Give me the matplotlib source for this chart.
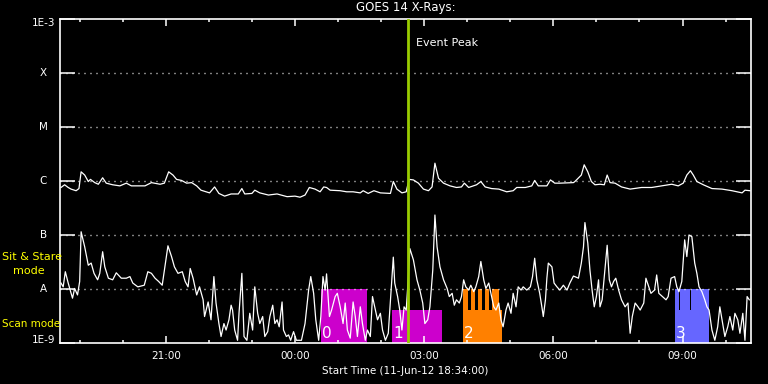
import matplotlib
matplotlib.use("Agg")
import matplotlib.pyplot as plt
from matplotlib.ticker import FixedLocator, FuncFormatter, NullLocator
import numpy as np

# times are minutes after the start, 11-Jun-12 18:34:00
START_MIN = 18 * 60 + 34

# GOES 14 long channel (1-8 A), log10 flux
long_min = [0, 5, 10, 14, 21, 25, 28, 33, 38, 41, 47, 52, 58, 63, 72, 82, 91, 98,
            117, 126, 138, 144, 150, 156, 161, 168, 175, 182, 189, 195, 207, 214,
            220, 228, 237, 247, 252, 256, 266, 270, 277, 289, 301, 315, 326, 333,
            340, 346, 354, 361, 366, 370, 375, 389, 398, 407, 417, 421, 428, 436,
            445, 459, 463, 468, 475, 481, 485, 491, 498, 505, 512, 517, 521, 526,
            533, 542, 551, 558, 562, 568, 579, 585, 591, 600, 610, 621, 630, 635,
            647, 656, 660, 665, 677, 682, 688, 695, 714, 716, 725, 729, 734, 739,
            744, 751, 757, 761, 765, 772, 781, 793, 809, 823, 837, 851, 860, 867,
            872, 877, 881, 886, 895, 907, 921, 935, 949, 953, 960]
long_log = [-6.12, -6.07, -6.12, -6.15, -6.18, -6.14, -5.83, -5.89, -6.01, -5.97,
            -6.03, -6.06, -5.94, -6.04, -6.07, -6.09, -6.04, -6.09, -6.09, -6.03,
            -6.06, -6.04, -5.83, -5.89, -5.97, -5.99, -6.04, -6.03, -6.09, -6.17,
            -6.22, -6.11, -6.23, -6.28, -6.24, -6.24, -6.14, -6.24, -6.23, -6.17,
            -6.22, -6.26, -6.24, -6.29, -6.28, -6.30, -6.26, -6.12, -6.15, -6.20,
            -6.11, -6.12, -6.17, -6.18, -6.20, -6.20, -6.22, -6.18, -6.23, -6.18,
            -6.22, -6.23, -6.01, -6.15, -6.22, -6.20, -5.97, -5.98, -6.04, -6.15,
            -6.18, -6.11, -5.67, -5.95, -6.04, -6.09, -6.12, -6.11, -6.04, -6.12,
            -6.07, -6.01, -6.11, -6.14, -6.15, -6.20, -6.18, -6.12, -6.12, -6.09,
            -5.99, -6.09, -6.09, -5.98, -6.04, -6.04, -6.03, -6.01, -5.89, -5.70,
            -5.83, -6.01, -6.07, -6.06, -6.07, -5.89, -6.03, -6.04, -6.11, -6.15,
            -6.12, -6.12, -6.09, -6.06, -6.09, -6.04, -5.89, -5.81, -5.89, -6.01,
            -6.07, -6.14, -6.15, -6.18, -6.22, -6.17, -6.18]

# GOES 14 short channel (0.5-4 A), log10 flux
short_min = [0, 3, 6, 10, 14, 16, 19, 23, 26, 28, 33, 38, 42, 46, 51, 54, 58, 61,
             66, 72, 77, 84, 91, 96, 100, 107, 116, 121, 126, 131, 136, 141, 145,
             149, 154, 158, 163, 169, 173, 177, 180, 184, 189, 193, 198, 200, 205,
             209, 213, 216, 220, 223, 227, 230, 234, 237, 239, 242, 246, 248, 252,
             255, 259, 263, 267, 270, 274, 277, 281, 284, 288, 291, 295, 298, 301,
             304, 308, 310, 314, 317, 320, 324, 328, 335, 340, 345, 348, 352, 355,
             359, 362, 365, 368, 370, 374, 377, 382, 385, 389, 393, 396, 399, 403,
             407, 410, 413, 417, 420, 424, 427, 431, 434, 438, 441, 445, 448, 452,
             456, 460, 463, 465, 469, 472, 475, 478, 481, 484, 486, 491, 496, 500,
             504, 507, 511, 514, 518, 521, 524, 528, 533, 538, 541, 545, 548, 551,
             555, 558, 561, 564, 568, 571, 575, 578, 582, 585, 589, 592, 596, 599,
             603, 606, 610, 613, 616, 620, 623, 627, 630, 634, 637, 641, 644, 649,
             654, 657, 660, 663, 667, 670, 672, 675, 677, 679, 684, 687, 691, 695,
             700, 705, 709, 714, 721, 725, 728, 730, 734, 737, 740, 743, 746, 749,
             751, 754, 757, 761, 764, 767, 770, 773, 777, 781, 786, 790, 793, 796,
             800, 804, 807, 812, 815, 819, 822, 827, 830, 833, 838, 843, 846, 850,
             855, 858, 861, 865, 869, 872, 875, 879, 883, 886, 889, 893, 897, 900,
             903, 907, 911, 915, 918, 922, 925, 929, 932, 936, 939, 943, 946, 950,
             953, 956, 959]
short_log = [-7.89, -7.96, -7.68, -7.89, -8.08, -8.17, -7.99, -8.11, -7.86, -6.94,
             -7.22, -7.56, -7.52, -7.71, -7.83, -7.71, -7.31, -7.59, -7.80, -7.83,
             -7.70, -7.80, -7.80, -7.77, -7.89, -7.96, -7.93, -7.68, -7.71, -7.80,
             -7.86, -7.93, -7.56, -7.20, -7.40, -7.59, -7.71, -7.68, -7.86, -7.96,
             -7.62, -7.80, -8.11, -7.96, -8.20, -8.51, -8.24, -8.57, -7.77, -8.26,
             -8.64, -8.88, -8.64, -8.76, -8.57, -8.30, -8.39, -8.76, -8.95, -8.45,
             -7.71, -8.88, -8.95, -8.45, -8.76, -7.96, -8.45, -8.64, -8.51, -8.88,
             -8.79, -8.51, -8.30, -8.64, -8.57, -8.70, -8.24, -8.76, -8.88, -8.85,
             -8.95, -8.79, -8.95, -8.95, -8.64, -8.02, -7.77, -8.08, -8.57, -8.95,
             -8.51, -7.77, -8.02, -7.72, -8.51, -8.39, -8.14, -8.08, -8.33, -8.64,
             -8.26, -8.76, -8.91, -8.24, -8.51, -8.88, -8.33, -8.64, -8.95, -8.76,
             -8.88, -8.14, -8.39, -8.57, -8.45, -8.76, -8.95, -8.82, -8.02, -7.41,
             -7.89, -8.14, -8.39, -8.76, -8.33, -8.39, -7.77, -7.25, -7.46, -7.83,
             -8.02, -8.26, -8.64, -8.57, -8.33, -7.65, -6.63, -7.22, -7.59, -7.83,
             -7.99, -8.14, -8.08, -8.30, -8.20, -8.26, -8.14, -7.83, -7.96, -8.02,
             -7.93, -8.05, -7.96, -7.77, -7.49, -7.83, -7.99, -7.89, -8.08, -8.33,
             -8.39, -8.26, -8.57, -8.70, -8.39, -8.26, -8.45, -8.08, -8.33, -7.96,
             -8.02, -7.96, -8.02, -7.96, -7.77, -7.43, -7.83, -8.08, -8.33, -8.51,
             -8.20, -7.80, -7.52, -7.59, -7.89, -7.96, -8.02, -7.93, -8.02, -7.89,
             -7.76, -7.80, -7.52, -7.22, -6.77, -7.15, -7.65, -8.02, -8.33, -8.14,
             -7.83, -8.33, -8.20, -7.77, -7.19, -7.83, -7.96, -7.86, -7.80, -8.02,
             -8.20, -8.33, -8.26, -8.82, -8.51, -8.26, -8.33, -8.39, -8.26, -7.80,
             -7.96, -8.08, -8.02, -7.74, -8.08, -8.14, -8.20, -8.14, -7.80, -7.77,
             -7.96, -8.05, -7.86, -7.09, -7.40, -7.00, -7.03, -7.52, -7.71, -7.96,
             -8.05, -8.20, -8.33, -8.39, -8.76, -8.95, -8.70, -8.33, -8.64, -8.88,
             -8.70, -8.51, -8.76, -8.45, -8.57, -8.82, -8.45, -8.95, -8.14, -8.20]

level_labels = ["1E-3", "X", "M", "C", "B", "A", "1E-9"]
level_values = [1e-3, 1e-4, 1e-5, 1e-6, 1e-7, 1e-8, 1e-9]

# observing blocks
sit_top = 1e-8
scan_top = 4.1e-9
block_names = ["0", "1", "2", "3"]
block_colors = ["#cc00cc", "#cc00cc", "#ff8000", "#6666ff"]
block_start = [362, 461, 560, 855]
block_end = [426, 531, 615, 903]
block_base = [sit_top, scan_top, scan_top, scan_top]
raster_start = [[], [], [560, 571, 580.5, 590.2, 600], [855, 862.3, 877.6]]
raster_end = [[], [], [567, 577, 586.7, 596.5, 610.4], [861, 876.6, 903]]

event_peak = 484

hour_major = [146, 326, 506, 686, 866]
hour_minor = [26 + 60 * k for k in range(16)]

FLOOR = 1e-9
W, H = 768, 384

fig = plt.figure(figsize=(W / 100, H / 100), dpi=100, facecolor="black")
ax = fig.add_axes([60.3 / W, 41 / H, 690.4 / W, 324 / H])
ax.set_facecolor("black")
ax.set_yscale("log")
ax.set_ylim(1e-9, 1e-3)
ax.set_xlim(-1, 961)

# mode blocks
for i in range(len(block_names)):
    ax.bar(block_start[i], block_base[i] - FLOOR, width=block_end[i] - block_start[i],
           bottom=FLOOR, align="edge", color=block_colors[i], lw=0, zorder=1)
    for s, e in zip(raster_start[i], raster_end[i]):
        ax.bar(s, sit_top - FLOOR, width=e - s, bottom=FLOOR, align="edge",
               color=block_colors[i], lw=0, zorder=1)
    ax.text(block_start[i] + 1.5, 1.24e-9, block_names[i], color="white",
            fontsize=11, ha="left", va="baseline", zorder=4)

# dotted level lines
for lv in level_values[1:-1]:
    ax.axhline(lv, color="white", lw=1.0, dashes=(0.72, 3.6), zorder=2)

ax.plot(long_min, 10 ** np.array(long_log), color="white", lw=0.9, zorder=3)
ax.plot(short_min, 10 ** np.array(short_log), color="white", lw=0.9, zorder=3)

ax.axvline(event_peak, color="#99cc00", lw=2, zorder=5)
ax.text(event_peak + 10, 10 ** -3.444, "Event Peak", color="white", fontsize=8,
        ha="left", va="center")

# y axis
ax.yaxis.set_major_locator(FixedLocator(level_values))
ax.yaxis.set_minor_locator(NullLocator())
ax.tick_params(axis="y", which="major", direction="in", length=10.5, width=1.1,
               color="white", left=True, right=True, labelleft=False)
ytrans = ax.get_yaxis_transform()
label_pos = [10 ** -3.074] + level_values[1:-1] + [10 ** -8.944]
for lab, pos in zip(level_labels, label_pos):
    ax.text(-0.0243, pos, lab, transform=ytrans, color="white", fontsize=7.5,
            ha="center", va="center")

# x axis
ax.xaxis.set_major_locator(FixedLocator(hour_major))
ax.xaxis.set_minor_locator(FixedLocator(hour_minor))
ax.xaxis.set_major_formatter(FuncFormatter(
    lambda v, p: "%02d:%02d" % (((START_MIN + v) // 60) % 24, (START_MIN + v) % 60)))
ax.tick_params(axis="x", which="major", direction="in", length=5, width=1.1,
               color="white", top=True, bottom=True, labelcolor="white",
               labelsize=7.5, pad=6)
ax.tick_params(axis="x", which="minor", direction="in", length=2.5, width=1.1,
               color="white", top=True, bottom=True)
ax.set_xlabel("Start Time (11-Jun-12 18:34:00)", color="white", fontsize=7.5,
              labelpad=3)

for sp in ax.spines.values():
    sp.set_color("white")
    sp.set_linewidth(1.2)

fig.text(405.5 / W, 1 - 8 / H, "GOES 14 X-Rays:", color="white", fontsize=8.5,
         ha="center", va="center")
fig.text(2 / W, 1 - 257 / H, "Sit & Stare", color="#ffff00", fontsize=8,
         ha="left", va="center")
fig.text(13 / W, 1 - 271 / H, "mode", color="#ffff00", fontsize=8,
         ha="left", va="center")
fig.text(2 / W, 1 - 324 / H, "Scan mode", color="#ffff00", fontsize=7.5,
         ha="left", va="center")

fig.savefig("out.png", dpi=100, facecolor="black")
